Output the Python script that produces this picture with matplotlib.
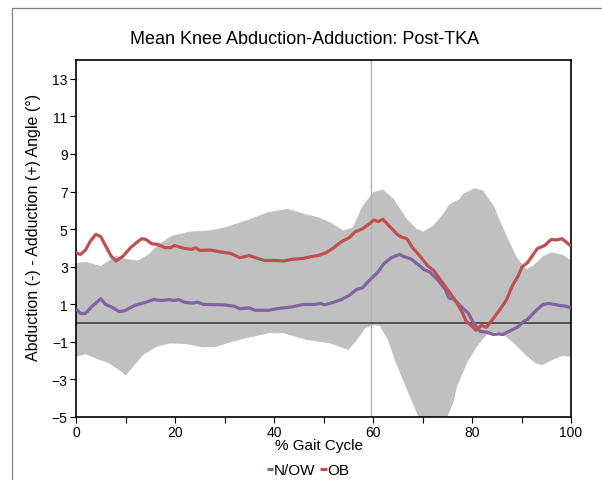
import matplotlib
matplotlib.use("Agg")
import matplotlib.pyplot as plt
from matplotlib.patches import Rectangle
from matplotlib.ticker import MultipleLocator, FuncFormatter

plt.rcParams['font.family'] = ['Liberation Sans', 'DejaVu Sans']

# Shaded variability band (upper / lower bounds, degrees)
band_upper_x = [0, 2.0, 5.05, 8.1, 10.1, 12.5, 14.8, 16.8, 19.5, 22.9, 26.9, 30.3, 34.3,
                38.9, 42.8, 46.7, 49.0, 51.3, 54.0, 56.0, 58.0, 60.1, 62.0, 64.1, 66.8,
                68.8, 70.2, 72.2, 74.2, 75.6, 77.6, 78.2, 80.6, 82.2, 84.3, 86.6, 89.0,
                90.9, 92.4, 94.4, 96.1, 98.4, 100]
band_upper = [3.17, 3.24, 3.0, 3.56, 3.39, 3.3, 3.65, 4.19, 4.63, 4.84, 4.9, 5.08, 5.43,
              5.88, 6.05, 5.75, 5.6, 5.34, 4.9, 5.08, 6.23, 6.94, 7.08, 6.59, 5.52,
              4.99, 4.84, 5.16, 5.79, 6.32, 6.59, 6.85, 7.16, 7.03, 6.23, 4.81, 3.48,
              2.85, 3.03, 3.53, 3.74, 3.6, 3.3]
band_lower_x = [0, 2.0, 4.0, 6.7, 8.75, 10.1, 11.8, 13.5, 16.2, 18.9, 22.2, 25.6, 28.3,
                31.6, 34.3, 38.9, 42.0, 46.7, 51.3, 53.3, 55.0, 56.7, 58.4, 60.1, 61.4,
                63.1, 64.7, 66.4, 68.1, 69.4, 70.8, 72.1, 73.5, 74.8, 76.1, 76.9, 78.9,
                80.9, 82.9, 84.9, 86.9, 88.9, 90.9, 92.9, 94.2, 96.2, 98.2, 100]
band_lower = [-1.77, -1.63, -1.86, -2.12, -2.48, -2.75, -2.21, -1.68, -1.24, -1.06, -1.09,
              -1.27, -1.24, -0.97, -0.79, -0.52, -0.52, -0.88, -1.05, -1.24, -1.41, -0.88,
              -0.26, -0.08, -0.13, -0.88, -2.12, -3.19, -4.26, -5.05, -5.7, -5.95, -5.75,
              -5.05, -4.26, -3.37, -2.12, -1.24, -0.61, -0.44, -0.7, -1.15, -1.68, -2.12,
              -2.21, -1.95, -1.73, -1.77]

# Mean curves
now_x = [0, 0.9, 1.9, 3.3, 5, 6, 7.5, 8.7, 9.8, 11.8, 14.1, 15.7, 17.2, 18.8, 19.9, 20.7,
         21.9, 23.4, 24.6, 25.7, 29.6, 31.9, 33.1, 35, 36.2, 38.9, 40.5, 43.6, 45.9, 48.2,
         49.4, 50.2, 52.1, 53.6, 55.2, 56.7, 57.9, 59.1, 61, 62.2, 63.7, 65.3, 66.4, 67.6,
         69.1, 70.3, 71.5, 73, 74.6, 75.3, 76.5, 77.7, 79.2, 80.3, 81.6, 83.1, 84.3, 85.4,
         86.2, 87.8, 89.3, 90.5, 91.2, 92.8, 94.3, 95.5, 96.7, 97.8, 99, 100]
now_y = [0.76, 0.51, 0.51, 0.9, 1.29, 0.99, 0.81, 0.61, 0.65, 0.93, 1.11, 1.25, 1.2, 1.25,
         1.2, 1.25, 1.11, 1.06, 1.11, 0.99, 0.97, 0.9, 0.76, 0.81, 0.68, 0.68, 0.76, 0.86,
         0.99, 0.99, 1.04, 0.97, 1.11, 1.25, 1.47, 1.79, 1.88, 2.23, 2.71, 3.17, 3.48, 3.65,
         3.52, 3.42, 3.12, 2.85, 2.71, 2.32, 1.79, 1.34, 1.25, 0.9, 0.54, 0.01, -0.44, -0.49,
         -0.61, -0.58, -0.61, -0.4, -0.2, 0.1, 0.19, 0.63, 0.99, 1.04, 0.99, 0.93, 0.9, 0.79]
ob_x = [0, 0.9, 1.9, 2.9, 4, 5, 6, 7.1, 8.1, 9.5, 11, 12.6, 13.3, 14.1, 15.3, 16.4, 18,
        19.1, 19.9, 21.9, 23.4, 24.2, 25, 27.3, 28.8, 31.2, 33.1, 33.9, 35, 36.2, 38.1, 40.5,
        42, 43.6, 45.9, 47.4, 49, 50.5, 52.1, 53.6, 55.2, 56.4, 57.9, 59.1, 60.2, 61, 62,
        63.3, 64.9, 65.7, 66.8, 68, 69.5, 71.1, 72.2, 73.8, 75.3, 76.9, 78.1, 78.8, 80, 80.8,
        81.9, 82.9, 83.9, 85.4, 87, 88.1, 89.3, 90.1, 91.2, 93.2, 94.7, 96, 97.1, 98.2, 100]
ob_y = [3.74, 3.65, 3.88, 4.36, 4.72, 4.6, 4.1, 3.56, 3.3, 3.56, 4.01, 4.36, 4.49, 4.45,
        4.22, 4.19, 4.01, 4.01, 4.13, 3.97, 3.92, 4.01, 3.87, 3.88, 3.8, 3.71, 3.48, 3.52,
        3.6, 3.48, 3.33, 3.33, 3.3, 3.39, 3.44, 3.53, 3.6, 3.74, 4.01, 4.33, 4.54, 4.86,
        5.02, 5.25, 5.48, 5.4, 5.52, 5.16, 4.72, 4.58, 4.5, 4.01, 3.56, 3.03, 2.82, 2.23,
        1.7, 1.08, 0.54, 0.1, -0.17, -0.38, -0.13, -0.22, 0.1, 0.63, 1.25, 1.96, 2.5, 2.98,
        3.21, 3.96, 4.13, 4.45, 4.42, 4.49, 4.1]

toe_off = 59.5
series_labels = ['N/OW', 'OB']
title = 'Mean Knee Abduction-Adduction: Post-TKA'
xlabel = '% Gait Cycle'
ylabel = 'Abduction (-) - Adduction (+) Angle (°)'

W, H = 602, 481
fig = plt.figure(figsize=(W / 100, H / 100), dpi=100)

# outer frame of the chart area
fig.patches.append(Rectangle((11.5 / W, -0.1), 1.2, 1 - 9 / H + 0.1,
                             transform=fig.transFigure, fill=False,
                             edgecolor='#808080', linewidth=0.9))

ax = fig.add_axes([76 / W, 1 - 418 / H, 495 / W, 357 / H])

# band polygon: upper edge left to right, lower edge back right to left
poly_x = band_upper_x + band_lower_x[::-1]
poly_y = band_upper + band_lower[::-1]
ax.fill(poly_x, poly_y, color='#C0C0C0', linewidth=0.6, edgecolor='#C0C0C0',
        joinstyle='round', zorder=1)

ax.axvline(toe_off, color='#B4B4B4', linewidth=1.0, zorder=2)
ax.axhline(0, color='#404040', linewidth=1.2, zorder=2)

l1, = ax.plot(now_x, now_y, color='#8064A2', linewidth=2.3, zorder=3,
              solid_joinstyle='round', solid_capstyle='butt')
l2, = ax.plot(ob_x, ob_y, color='#C0504D', linewidth=2.3, zorder=4,
              solid_joinstyle='round', solid_capstyle='butt')

ax.set_xlim(0, 100)
ax.set_ylim(-5, 14)
ax.xaxis.set_major_locator(MultipleLocator(10))
ax.xaxis.set_major_formatter(FuncFormatter(lambda v, p: f'{v:.0f}' if round(v) % 20 == 0 else ''))
ax.set_yticks(range(-5, 14, 2))
ax.tick_params(direction='out', length=4, width=0.8, labelsize=10, colors='black', pad=2)
for s in ax.spines.values():
    s.set_linewidth(1.2)
    s.set_color('black')

fig.text(305 / W, 1 - 39 / H, title, ha='center', va='center', fontsize=13)
fig.text(34 / W, 1 - 227 / H, ylabel, ha='center', va='center', rotation=90, fontsize=11.5)
fig.text(319 / W, 1 - 446 / H, xlabel, ha='center', va='center', fontsize=11)

fig.legend([l1, l2], series_labels, loc='center', bbox_to_anchor=(308 / W, 1 - 471 / H),
           ncol=2, frameon=False, fontsize=11, handlelength=0.4, handletextpad=0.05,
           columnspacing=0.35, borderpad=0, borderaxespad=0)

fig.savefig('out.png', dpi=100)
